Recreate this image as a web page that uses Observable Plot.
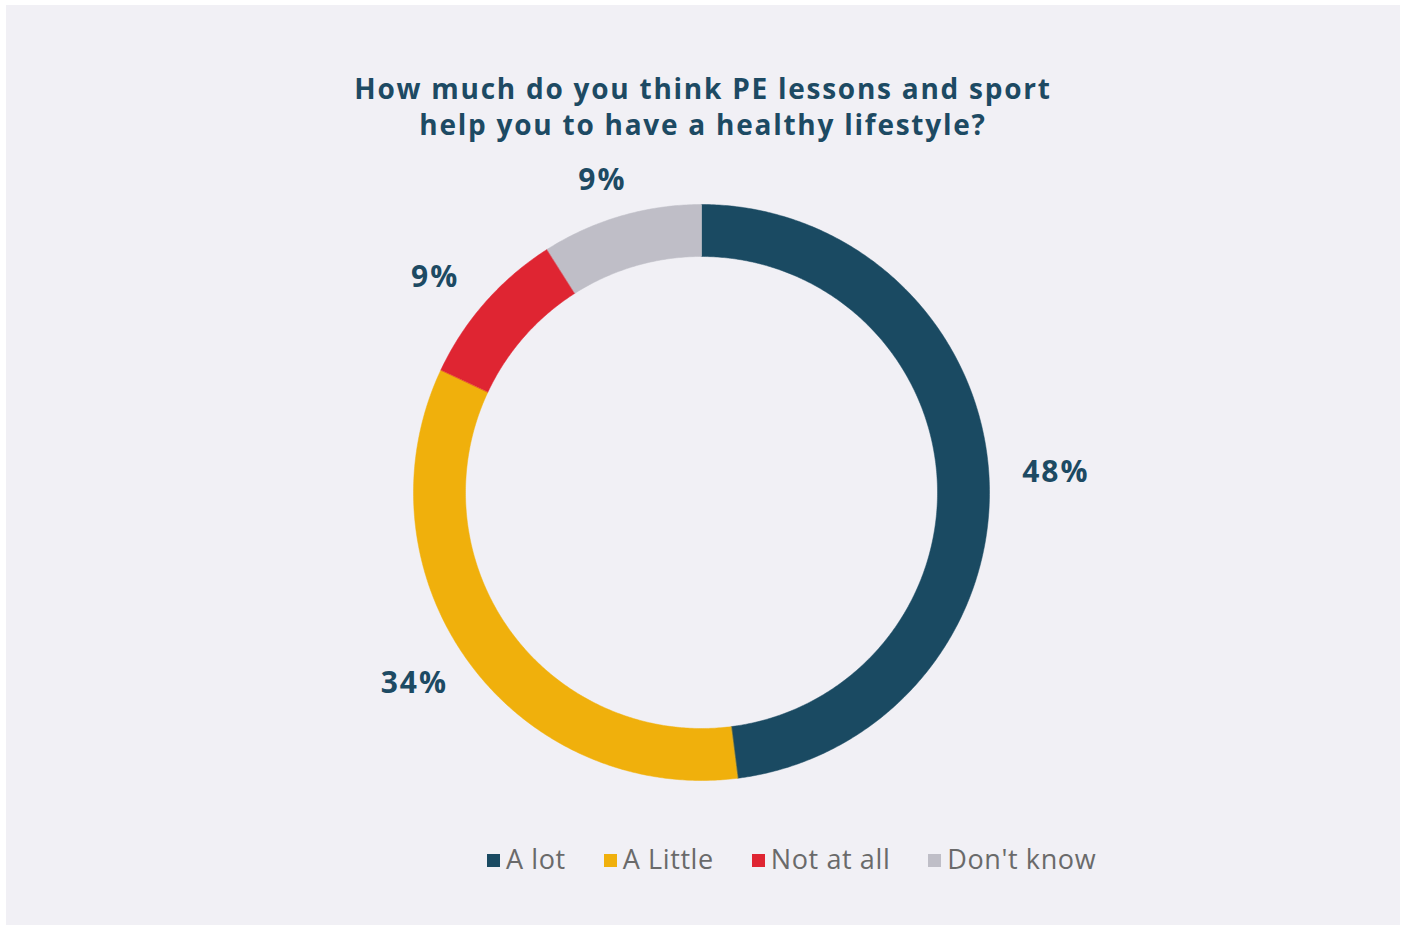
<!DOCTYPE html>
<html><head><meta charset="utf-8">
<script src="https://cdn.jsdelivr.net/npm/d3@7"></script>
<script src="https://cdn.jsdelivr.net/npm/@observablehq/plot@0.6"></script>
<style>
html,body{margin:0;padding:0;background:#fff;width:1405px;height:926px;overflow:hidden;font-family:"Open Sans",sans-serif}
#panel{position:absolute;left:6px;top:5px;width:1394px;height:920px;background:#f1f0f5}
.tl{position:absolute;left:0;width:100%;height:34px;text-align:center;color:#1d4a63;font-weight:700;font-size:28px;line-height:34px;letter-spacing:1.75px;white-space:nowrap}
#t1{top:66px}
#t2{top:102px}
#chart{position:absolute;left:0;top:145px}
#chart text{letter-spacing:2px}
#legend{position:absolute;top:835px;left:481px;display:flex;align-items:center;gap:38px;font-size:27px;color:#6a6a6a;letter-spacing:0.6px}
.item{display:flex;align-items:center}
.sw{width:13px;height:13px;margin-right:6px;margin-top:4px}
</style>
</head><body>
<div id="panel">
  <div class="tl" id="t1">How much do you think PE lessons and sport</div>
  <div class="tl" id="t2">help you to have a healthy lifestyle?</div>
  <div id="chart"></div>
  <div id="legend"></div>
</div>
<script>
const categories = ["A lot", "A Little", "Not at all", "Don't know"];
const values = [48, 34, 9, 9];
const colors = ["#1a4a62", "#f0b00c", "#df2532", "#bfbec7"];
const labels = ["48%", "34%", "9%", "9%"];

const W = 1394, H = 670;
const cx = 695, cy = 342;            // donut centre inside the svg
const R = 288, r0 = 236;             // outer and inner radii
const LX = 355, LY = 325;            // label ring (wider than tall, labels are wide)

const total = d3.sum(values);
const arcs = [];
let acc = 0;
categories.forEach((c, i) => {
  const a0 = acc / total * 2 * Math.PI;
  acc += values[i];
  const a1 = acc / total * 2 * Math.PI;
  arcs.push({category: c, a0, a1, label: labels[i], mid: (a0 + a1) / 2});
});

const pts = [];
for (const a of arcs) {
  const n = Math.max(8, Math.ceil((a.a1 - a.a0) / (Math.PI / 360)));
  for (let k = 0; k <= n; k++) {
    const t = a.a0 + (a.a1 - a.a0) * k / n;
    pts.push({category: a.category, x: R * Math.sin(t), y: R * Math.cos(t)});
  }
  for (let k = n; k >= 0; k--) {
    const t = a.a0 + (a.a1 - a.a0) * k / n;
    pts.push({category: a.category, x: r0 * Math.sin(t), y: r0 * Math.cos(t)});
  }
}
const lab = arcs.map(a => ({label: a.label, x: LX * Math.sin(a.mid), y: LY * Math.cos(a.mid)}));

const chart = Plot.plot({
  width: W, height: H, margin: 0,
  style: {background: "transparent", fontFamily: "'Open Sans', sans-serif", overflow: "visible"},
  x: {domain: [-cx, W - cx], range: [0, W], axis: null},
  y: {domain: [-(H - cy), cy], range: [H, 0], axis: null},
  color: {domain: categories, range: colors},
  marks: [
    Plot.line(pts, {x: "x", y: "y", z: "category", fill: "category", stroke: "category", strokeWidth: 0.5, curve: "linear-closed"}),
    Plot.text(lab, {x: "x", y: "y", text: "label", fontSize: 30, fontWeight: 700, fill: "#1d4a63"})
  ]
});
document.getElementById("chart").appendChild(chart);

const legend = document.getElementById("legend");
categories.forEach((c, i) => {
  const it = document.createElement("div");
  it.className = "item";
  const sw = document.createElement("span");
  sw.className = "sw";
  sw.style.background = colors[i];
  const tx = document.createElement("span");
  tx.textContent = c;
  it.appendChild(sw); it.appendChild(tx);
  legend.appendChild(it);
});
</script>
</body></html>
